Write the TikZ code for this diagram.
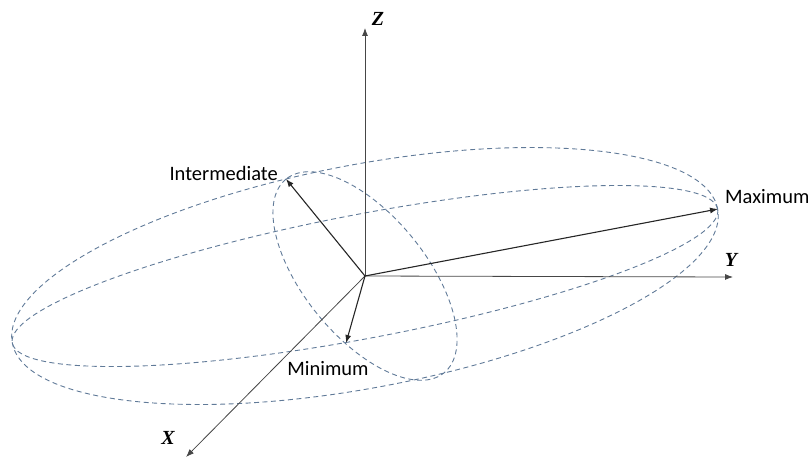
\documentclass[tikz,border=0pt]{standalone}
\usepackage{fontspec}
\setmainfont{Liberation Serif}
\newfontfamily\lblfont{Carlito}
\usetikzlibrary{arrows.meta}
\definecolor{dashblue}{RGB}{96,122,152}
\definecolor{axisgrey}{RGB}{70,70,70}
\begin{document}
\begin{tikzpicture}[x=1pt,y=1pt,
  axisline/.style={draw=axisgrey,line width=0.8pt,-{Latex[length=8pt,width=6pt]}},
  vecline/.style={draw=black!85,line width=1.1pt,-{Latex[length=8pt,width=6pt]}},
  ellip/.style={draw=dashblue,line width=0.9pt,dash pattern=on 5pt off 3.5pt},
  axlabel/.style={font=\fontsize{20}{22}\selectfont\bfseries\itshape,inner sep=0pt},
  veclabel/.style={font=\lblfont\fontsize{20.5}{22}\selectfont,inner sep=0pt}]
\useasboundingbox (0,0) rectangle (808,459);
\coordinate (O) at (365,183);
\coordinate (Zt) at (365,431);
\coordinate (Yt) at (733,182);
\coordinate (Xt) at (186,2);
\coordinate (It) at (286,280);
\coordinate (Mt) at (718,250);
\coordinate (mt) at (346,116);
% ellipses
\draw[ellip,rotate around={10.75:(O)}] (O) ellipse (359 and 111.6);
\draw[ellip,rotate around={10.75:(O)}] (O) ellipse (359 and 62);
\draw[ellip,rotate around={129.2:(O)}] (O) ellipse (125 and 61);
% axes
\draw[axisline] (O) -- (Zt);
\draw[axisline] (O) -- (Yt);
\draw[axisline] (O) -- (Xt);
% principal vectors
\draw[vecline] (O) -- (It);
\draw[vecline] (O) -- (Mt);
\draw[vecline] (O) -- (mt);
% labels
\node[axlabel] (zl) at (378,440) {Z};
\node[axlabel] (yl) at (731,199) {Y};
\node[axlabel] (xl) at (168,21) {X};
\node[veclabel,anchor=east] (il) at (278,286) {Intermediate};
\node[veclabel,anchor=west] (ml) at (725,262) {Maximum};
\node[veclabel] (nl) at (328,90) {Minimum};
\end{tikzpicture}
\end{document}
